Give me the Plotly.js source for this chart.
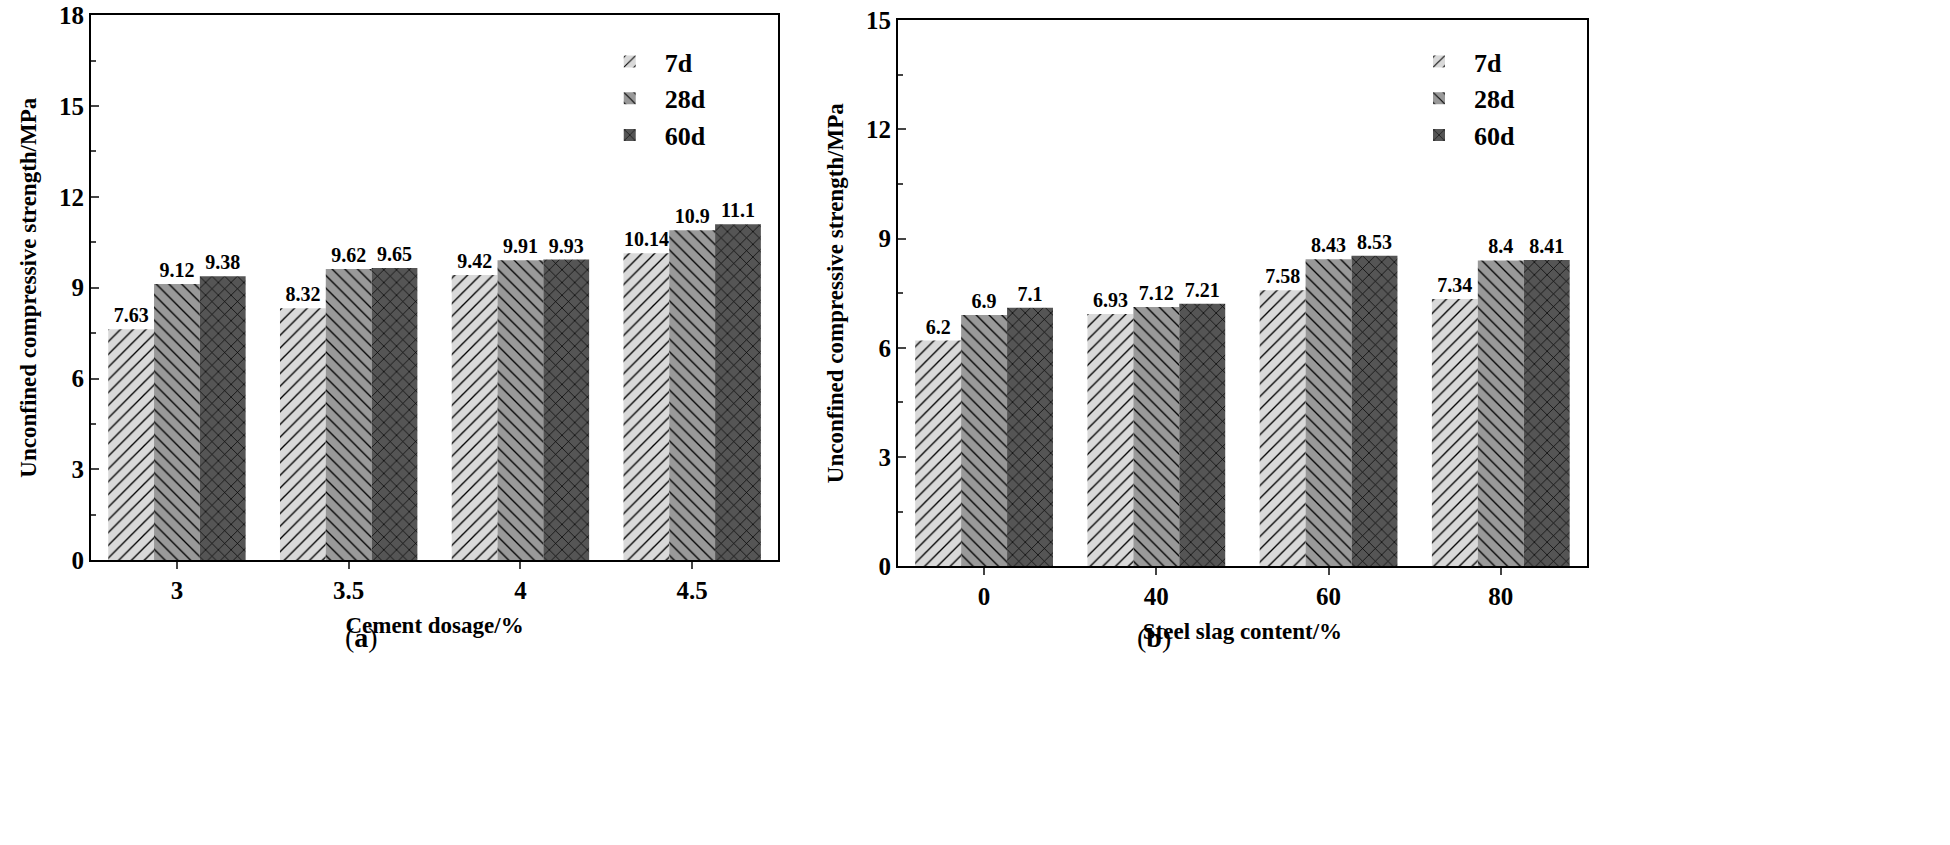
<!DOCTYPE html>
<html><head><meta charset="utf-8">
<script src="https://cdn.plot.ly/plotly-3.0.1.min.js"></script>
<style>body{margin:0}#chart{width:1950px;height:845px}</style></head>
<body><div id="chart"></div>
<script>
// (a) cement dosage
const cementCats = ['3', '3.5', '4', '4.5'];
const cement7 = [7.63, 8.32, 9.42, 10.14];
const cement28 = [9.12, 9.62, 9.91, 10.9];
const cement60 = [9.38, 9.65, 9.93, 11.1];
// (b) steel slag content
const slagCats = ['0', '40', '60', '80'];
const slag7 = [6.2, 6.93, 7.58, 7.34];
const slag28 = [6.9, 7.12, 8.43, 8.4];
const slag60 = [7.1, 7.21, 8.53, 8.41];

const ages = ['7d', '28d', '60d'];
const looks = [
  {bg: '#d9d9d9', shape: '/'},
  {bg: '#999999', shape: '\\'},
  {bg: '#555555', shape: 'x'}
];
const fnt = {family: 'Liberation Serif', size: 20, color: '#000'};

function mk(cats, vals, i, xa, ya, leg) {
  return {
    type: 'bar', x: cats, y: vals, name: ages[i], xaxis: xa, yaxis: ya, legend: leg,
    text: vals.map(String), textposition: 'outside', cliponaxis: false,
    textfont: {family: 'Liberation Serif', size: 20, color: '#000', weight: 'bold'},
    marker: {color: looks[i].bg, line: {width: 0},
      pattern: {shape: looks[i].shape, bgcolor: looks[i].bg, fgcolor: '#000', size: 9, solidity: 0.15}}
  };
}
const data = [];
[cement7, cement28, cement60].forEach((v, i) => data.push(mk(cementCats, v, i, 'x', 'y', 'legend')));
[slag7, slag28, slag60].forEach((v, i) => data.push(mk(slagCats, v, i, 'x2', 'y2', 'legend2')));

function yax(max, dom) {
  return {range: [0, max], dtick: 3, domain: dom, ticks: 'inside', ticklen: 8, tickwidth: 2,
    minor: {ticks: 'inside', ticklen: 5, dtick: 1.5, tickwidth: 1.5},
    showline: true, mirror: true, linewidth: 2, linecolor: '#000', showgrid: false, zeroline: false,
    tickfont: {family: 'Liberation Serif', size: 25, weight: 'bold'},
    title: {text: '<b>Unconfined compressive strength/MPa</b>', font: {family: 'Liberation Serif', size: 23}, standoff: 16}};
}
function xax(title, cats, dom, anchor) {
  return {type: 'category', categoryarray: cats, domain: dom, anchor: anchor, ticks: 'outside', ticklen: 7, tickwidth: 2,
    showline: true, mirror: true, linewidth: 2, linecolor: '#000', showgrid: false,
    tickfont: {family: 'Liberation Serif', size: 25, weight: 'bold'},
    title: {text: '<b>' + title + '</b>', font: {family: 'Liberation Serif', size: 23}, standoff: 14}};
}
const legBase = {font: {family: 'Liberation Serif', size: 26, weight: 'bold'}, bgcolor: 'rgba(0,0,0,0)',
  itemwidth: 60, tracegroupgap: 6, xanchor: 'left', yanchor: 'top'};

const layout = {
  width: 1950, height: 845, margin: {l: 0, r: 0, t: 0, b: 0},
  paper_bgcolor: '#fff', plot_bgcolor: '#fff', font: fnt,
  barmode: 'group', bargap: 0.2, bargroupgap: 0,
  xaxis: xax('Cement dosage/%', cementCats, [0.0467, 0.399], 'y'),
  yaxis: yax(18, [0.337, 0.982]),
  xaxis2: xax('Steel slag content/%', slagCats, [0.4605, 0.8138], 'y2'),
  yaxis2: Object.assign(yax(15, [0.330, 0.976]), {anchor: 'x2'}),
  legend: Object.assign({x: 0.305, y: 0.955}, legBase),
  legend2: Object.assign({x: 0.72, y: 0.955}, legBase),
  annotations: [
    {text: '(<b>a</b>)', xref: 'paper', yref: 'paper', x: 0.176, y: 0.225, showarrow: false, font: {family: 'Liberation Serif', size: 28}},
    {text: '(<b>b</b>)', xref: 'paper', yref: 'paper', x: 0.592, y: 0.225, showarrow: false, font: {family: 'Liberation Serif', size: 28}}
  ]
};
Plotly.newPlot('chart', data, layout, {displayModeBar: false});
</script></body></html>
